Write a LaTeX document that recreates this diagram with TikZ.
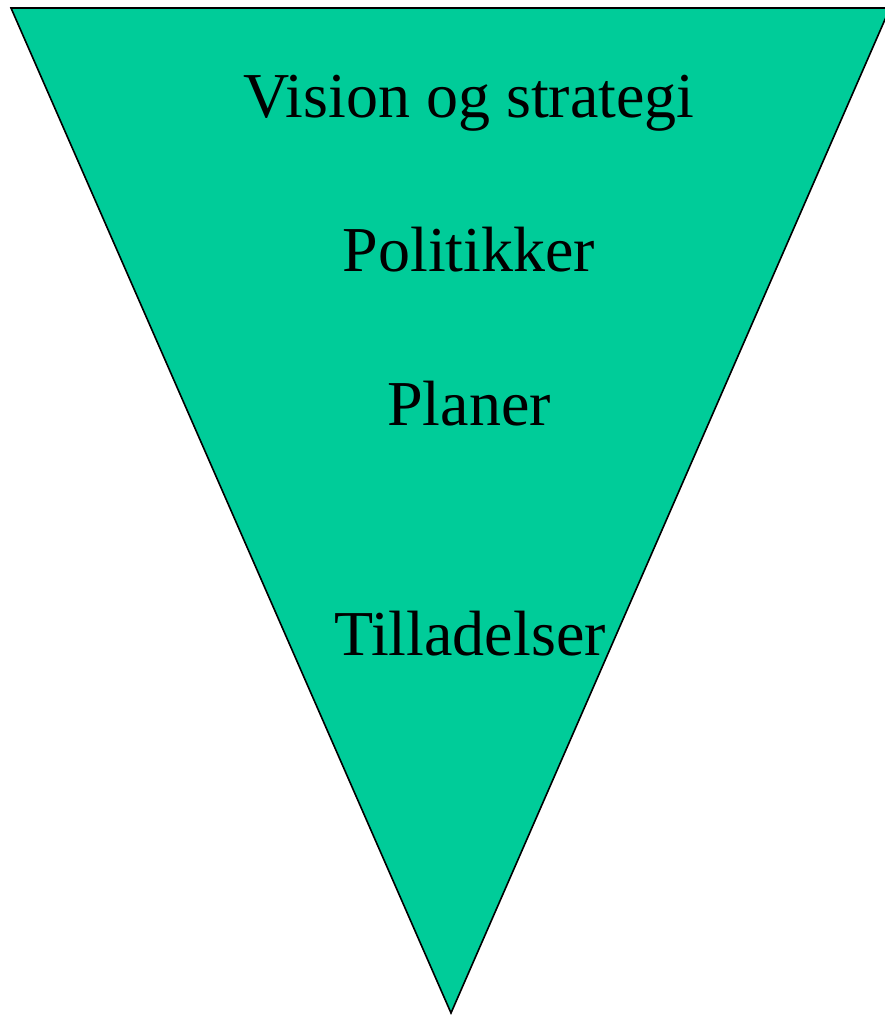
\documentclass[tikz,border=0pt]{standalone}
\usepackage{fontspec}
\setmainfont{Liberation Serif}
\definecolor{funnelgreen}{HTML}{00CC99}

\begin{document}
\begin{tikzpicture}[x=0.5pt, y=-0.5pt,
  funnel/.style = {draw=black, line width=0.8pt, fill=funnelgreen},
  every node/.style = {anchor=base, inner sep=0pt,
    font=\fontsize{32}{38}\selectfont}]
  \useasboundingbox (0,0) rectangle (884,1015);
  \coordinate (tl) at (11,8);
  \coordinate (tr) at (890,8);
  \coordinate (tip) at (451,1013);
  \draw[funnel] (tl) -- (tr) -- (tip) -- cycle;
  \node (vision) at (469,118) {Vision og strategi};
  \node (politik) at (469,272) {Politikker};
  \node (planer) at (469,425) {Planer};
  \node (tillad) at (470,655) {Tilladelser};
\end{tikzpicture}
\end{document}
